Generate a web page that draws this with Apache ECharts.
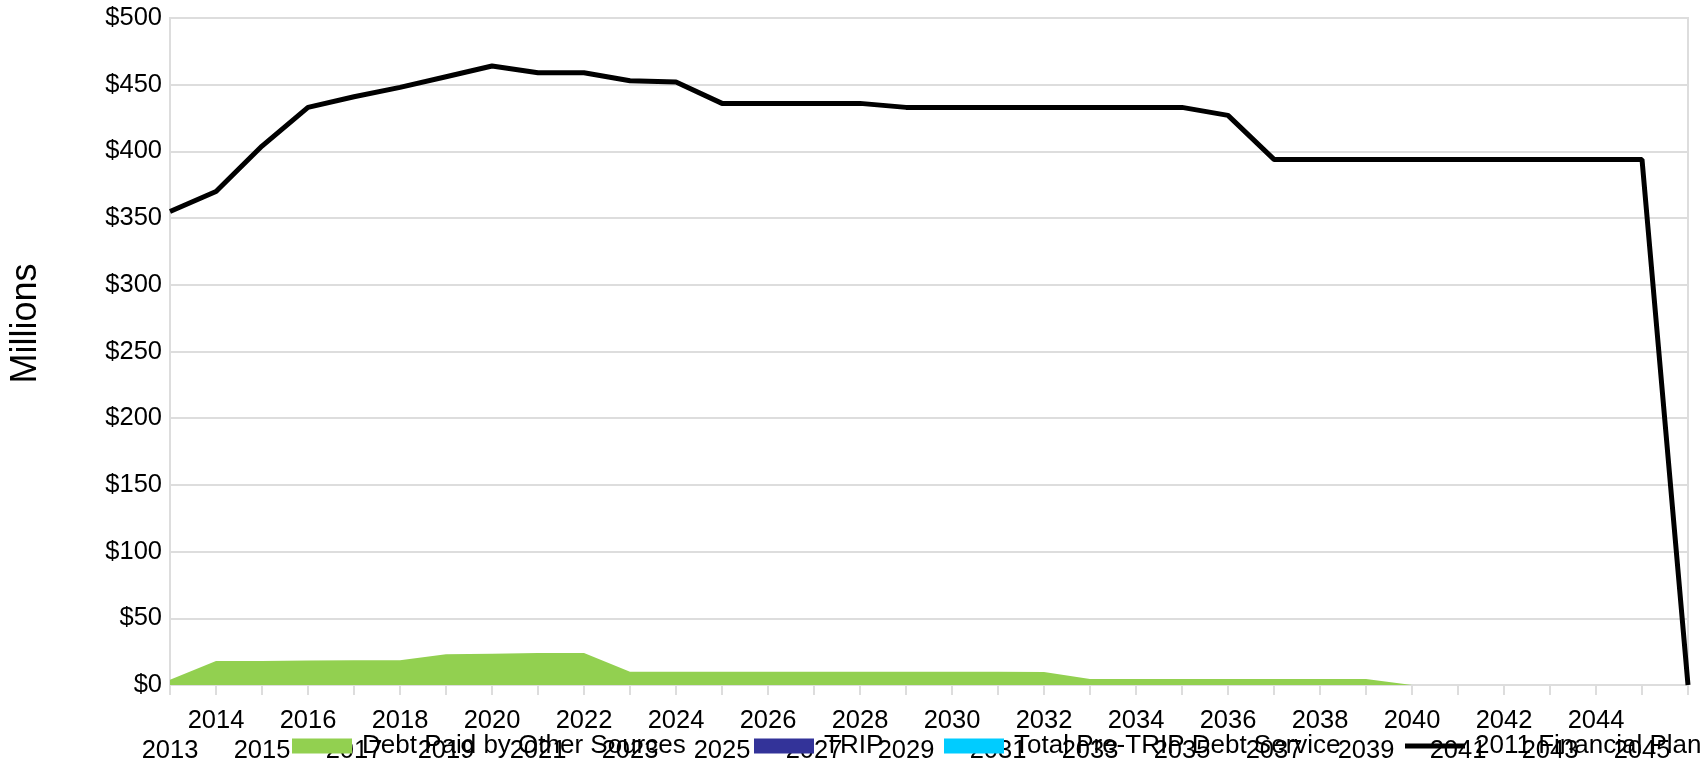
<!DOCTYPE html>
<html>
<head>
<meta charset="utf-8">
<script src="https://cdn.jsdelivr.net/npm/echarts@6/dist/echarts.min.js"></script>
<style>
  html, body { margin: 0; padding: 0; background: #fff; }
  #root { width: 1707px; height: 766px; }
</style>
</head>
<body>
<div id="root"></div>
<script>
// years on the category axis
const years = []
for (let y = 2013; y <= 2046; y++) years.push(String(y))

// values in $ millions
const otherSources = [4, 18, 18, 18.3, 18.5, 18.5, 23, 23.5, 24, 24,
  10, 10, 10, 10, 10, 10, 10, 10, 10, 9.8,
  4.5, 4.5, 4.5, 4.5, 4.5, 4.5, 4.5, 0, 0, 0,
  0, 0, 0, 0]
const trip = years.map(() => 0)
const preTrip = years.map(() => 0)
const plan2011 = [355, 370, 404, 433, 441, 448, 456, 464, 459, 459,
  453, 452, 436, 436, 436, 436, 433, 433, 433, 433,
  433, 433, 433, 427, 394, 394, 394, 394, 394, 394,
  394, 394, 394, 0]

const yTicks = [0, 50, 100, 150, 200, 250, 300, 350, 400, 450, 500]

const font = 'Liberation Sans, Arial, sans-serif'
const gridGray = '#dddddd'

const chart = echarts.init(document.getElementById('root'))

const legendBase = {
  top: 728,
  itemWidth: 60,
  itemHeight: 15,
  textStyle: { fontFamily: font, fontSize: 26, color: '#000', padding: [0, 0, 0, 5] },
  selectedMode: false
}

const option = {
  animation: false,
  grid: {
    left: 168, right: 19, top: 18, bottom: 80,
    show: true, borderColor: gridGray, borderWidth: 2
  },
  legend: [
    Object.assign({}, legendBase, { left: 287, data: [{ name: 'Debt Paid by Other Sources', icon: 'rect' }] }),
    Object.assign({}, legendBase, { left: 749, data: [{ name: 'TRIP', icon: 'rect' }] }),
    Object.assign({}, legendBase, { left: 939, data: [{ name: 'Total Pre-TRIP Debt Service', icon: 'rect' }] }),
    // the plan is a line, so its key is a thin bar
    Object.assign({}, legendBase, { left: 1400, itemHeight: 5, data: [{ name: '2011 Financial Plan', icon: 'rect' }] })
  ],
  xAxis: {
    type: 'category',
    data: years,
    boundaryGap: false,
    axisLine: { lineStyle: { color: gridGray, width: 2 } },
    axisTick: { show: true, length: 10, interval: 0, lineStyle: { color: gridGray, width: 2 } },
    axisLabel: {
      interval: 0,
      margin: 21,
      fontFamily: font,
      fontSize: 25.5,
      lineHeight: 30,
      color: '#000',
      formatter: (v, i) => {
        if (i === years.length - 1) return ''
        return i % 2 === 0 ? '\n' + v : v
      }
    },
    splitLine: { show: false }
  },
  yAxis: {
    type: 'value',
    min: yTicks[0],
    max: yTicks[yTicks.length - 1],
    interval: 50,
    name: 'Millions',
    nameLocation: 'middle',
    nameRotate: 90,
    nameGap: 126,
    // nudge the title up a little, like the original
    nameTextStyle: { fontFamily: font, fontSize: 36, color: '#000', padding: [0, 0, 0, 56] },
    axisLine: { show: true, lineStyle: { color: gridGray, width: 2 } },
    axisTick: { show: false },
    axisLabel: {
      margin: 8,
      fontFamily: font,
      fontSize: 25.5,
      color: '#000',
      formatter: v => '$' + v
    },
    splitLine: { lineStyle: { color: gridGray, width: 2 } }
  },
  series: [
    {
      name: 'Debt Paid by Other Sources',
      type: 'line',
      stack: 'debt',
      data: otherSources,
      symbol: 'none',
      color: '#92d050',
      lineStyle: { width: 0 },
      areaStyle: { color: '#92d050', opacity: 1 }
    },
    {
      name: 'TRIP',
      type: 'line',
      stack: 'debt',
      data: trip,
      symbol: 'none',
      color: '#333399',
      lineStyle: { width: 0 },
      areaStyle: { color: '#333399', opacity: 1 }
    },
    {
      name: 'Total Pre-TRIP Debt Service',
      type: 'line',
      stack: 'debt',
      data: preTrip,
      symbol: 'none',
      color: '#00ccff',
      lineStyle: { width: 0 },
      areaStyle: { color: '#00ccff', opacity: 1 }
    },
    {
      name: '2011 Financial Plan',
      type: 'line',
      data: plan2011,
      symbol: 'none',
      color: '#000',
      z: 5,
      lineStyle: { width: 5, color: '#000' }
    }
  ]
}

chart.setOption(option)
</script>
</body>
</html>
